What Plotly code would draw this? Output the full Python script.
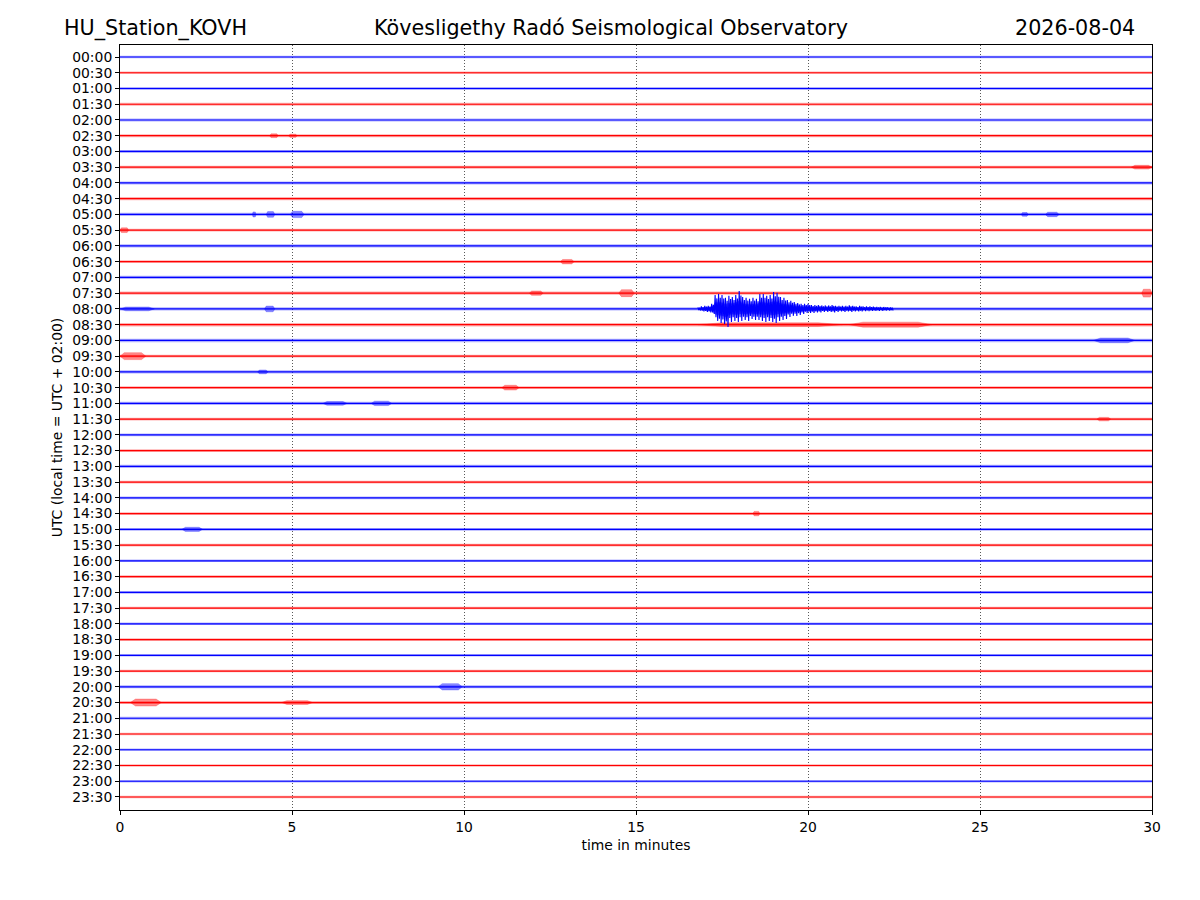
import plotly.graph_objects as go

# ---------------- data ----------------
ROW_LABELS = [f"{h:02d}:{m:02d}" for h in range(24) for m in (0, 30)]
X_TICKS = [0, 5, 10, 15, 20, 25, 30]
TRACE_COLORS = ["#0000ff", "#ff0000"]  # :00 rows blue, :30 rows red
TRACE_RGB = ["0,0,255", "255,0,0"]

# baseline noise half-width per row (in row units)
NOISE_LEVEL = [0.08, 0.08, 0.10, 0.09, 0.09, 0.09, 0.09, 0.10,
               0.10, 0.10, 0.10, 0.09, 0.10, 0.09, 0.10, 0.10,
               0.10, 0.11, 0.11, 0.09, 0.10, 0.09, 0.10, 0.09,
               0.09, 0.09, 0.10, 0.09, 0.09, 0.09, 0.09, 0.09,
               0.08, 0.09, 0.09, 0.08, 0.08, 0.09, 0.08, 0.08,
               0.09, 0.09, 0.09, 0.08, 0.08, 0.08, 0.08, 0.08]

# short local bursts: row, start minute, end minute, peak half-amplitude (rows)
BURST_ROW = ["02:30", "02:30", "03:30", "05:00", "05:00", "05:00", "05:00", "05:00",
             "05:30", "06:30", "07:30", "07:30", "07:30", "08:00", "08:00",
             "08:30", "08:30", "09:00", "09:30", "10:00", "10:30", "11:00", "11:00",
             "11:30", "14:30", "15:00", "20:00", "20:30", "20:30"]
BURST_START = [4.35, 4.9, 29.4, 3.85, 4.25, 4.95, 26.2, 26.9,
               0.0, 12.8, 11.9, 14.5, 29.7, 0.0, 4.2,
               16.8, 21.2, 28.3, 0.0, 4.0, 11.1, 5.9, 7.3,
               28.4, 18.4, 1.8, 9.25, 0.3, 4.7]
BURST_END = [4.6, 5.15, 30.0, 3.95, 4.5, 5.35, 26.4, 27.3,
             0.25, 13.2, 12.3, 14.95, 30.0, 1.0, 4.5,
             21.0, 23.6, 29.5, 0.75, 4.3, 11.6, 6.6, 7.9,
             28.8, 18.6, 2.4, 9.95, 1.2, 5.6]
BURST_AMP = [0.12, 0.10, 0.12, 0.16, 0.18, 0.20, 0.12, 0.14,
             0.15, 0.14, 0.14, 0.22, 0.25, 0.12, 0.18,
             0.12, 0.16, 0.15, 0.22, 0.12, 0.15, 0.12, 0.14,
             0.11, 0.14, 0.13, 0.20, 0.22, 0.12]

# earthquake on the 08:00 line: upward / downward excursion (rows) every 0.1 min
QUAKE_ROW = "08:00"
QUAKE_MIN = [16.8, 16.9, 17.0, 17.1, 17.2, 17.3, 17.4, 17.5, 17.6, 17.7,
             17.8, 17.9, 18.0, 18.1, 18.2, 18.3, 18.4, 18.5, 18.6, 18.7,
             18.8, 18.9, 19.0, 19.1, 19.2, 19.3, 19.4, 19.5, 19.6, 19.7,
             19.8, 19.9, 20.0, 20.1, 20.2, 20.3, 20.4, 20.5, 20.6, 20.7,
             20.8, 20.9, 21.0, 21.1, 21.2, 21.3, 21.4, 21.5, 21.6, 21.7,
             21.8, 21.9, 22.0, 22.1, 22.2, 22.3, 22.4]
QUAKE_UP = [0.10, 0.16, 0.19, 0.19, 0.32, 0.89, 0.95, 0.89, 0.70, 0.83,
            0.76, 0.89, 1.14, 0.76, 0.70, 0.64, 0.70, 0.64, 0.95, 0.95,
            0.83, 0.89, 1.08, 1.02, 0.76, 0.70, 0.57, 0.51, 0.44, 0.38,
            0.32, 0.32, 0.32, 0.25, 0.25, 0.25, 0.22, 0.22, 0.22, 0.25,
            0.19, 0.19, 0.19, 0.19, 0.22, 0.19, 0.16, 0.19, 0.16, 0.16,
            0.16, 0.14, 0.13, 0.13, 0.12, 0.11, 0.10]
QUAKE_DOWN = [0.10, 0.16, 0.19, 0.22, 0.32, 0.76, 0.89, 0.95, 1.14, 0.83,
              0.76, 0.83, 0.76, 0.70, 0.76, 0.64, 0.70, 0.70, 0.76, 0.83,
              0.76, 0.83, 0.89, 0.76, 0.70, 0.64, 0.51, 0.44, 0.44, 0.38,
              0.32, 0.25, 0.25, 0.25, 0.22, 0.22, 0.19, 0.19, 0.19, 0.22,
              0.19, 0.16, 0.19, 0.16, 0.19, 0.16, 0.16, 0.16, 0.14, 0.14,
              0.13, 0.13, 0.12, 0.12, 0.11, 0.10, 0.10]

TITLE_LEFT = "HU_Station_KOVH"
TITLE_CENTER = "Kövesligethy Radó Seismological Observatory"
TITLE_RIGHT = "2026-08-04"
X_TITLE = "time in minutes"
Y_TITLE = "UTC (local time = UTC + 02:00)"

# ---------------- figure ----------------
FONT = "DejaVu Sans"
fig = go.Figure()
row_index = {lab: i for i, lab in enumerate(ROW_LABELS)}
x0, x1 = X_TICKS[0], X_TICKS[-1]

# noise bands and centre lines, one trace per colour
for c, color in enumerate(TRACE_COLORS):
    bx, by, lx, ly = [], [], [], []
    for i, lab in enumerate(ROW_LABELS):
        if i % 2 != c:
            continue
        a = NOISE_LEVEL[i]
        bx += [x0, x1, x1, x0, x0, None]
        by += [i - a, i - a, i + a, i + a, i - a, None]
        lx += [x0, x1, None]
        ly += [i, i, None]
    fig.add_trace(go.Scatter(x=bx, y=by, mode="lines", fill="toself",
                             fillcolor=f"rgba({TRACE_RGB[c]},0.30)", line=dict(width=0),
                             hoverinfo="skip", showlegend=False))
    fig.add_trace(go.Scatter(x=lx, y=ly, mode="lines",
                             line=dict(color=color, width=1.2),
                             hoverinfo="skip", showlegend=False))

# bursts as small fuzzy envelopes
for c, color in enumerate(TRACE_COLORS):
    px_, py_ = [], []
    for r, s, e, a in zip(BURST_ROW, BURST_START, BURST_END, BURST_AMP):
        i = row_index[r]
        if i % 2 != c:
            continue
        q = (e - s) / 6
        px_ += [s, s + q, e - q, e, e - q, s + q, s, None]
        py_ += [i, i - a, i - a, i, i + a, i + a, i, None]
    fig.add_trace(go.Scatter(x=px_, y=py_, mode="lines", fill="toself",
                             fillcolor=f"rgba({TRACE_RGB[c]},0.45)",
                             line=dict(color=f"rgba({TRACE_RGB[c]},0.5)", width=0.5),
                             hoverinfo="skip", showlegend=False))

# earthquake: soft inner envelope plus a dense zig-zag between the read excursions
qi = row_index[QUAKE_ROW]
qc = qi % 2
ex = list(QUAKE_MIN) + list(reversed(QUAKE_MIN))
ey = [qi - 0.45 * u for u in QUAKE_UP] + [qi + 0.45 * d for d in reversed(QUAKE_DOWN)]
fig.add_trace(go.Scatter(x=ex, y=ey, mode="lines", fill="toself",
                         fillcolor=f"rgba({TRACE_RGB[qc]},0.55)", line=dict(width=0),
                         hoverinfo="skip", showlegend=False))
zx, zy = [], []
for t, u, d in zip(QUAKE_MIN, QUAKE_UP, QUAKE_DOWN):
    zx += [t, t + 0.025, t + 0.05, t + 0.075]
    zy += [qi - u, qi + d * 0.7, qi - u * 0.75, qi + d]
fig.add_trace(go.Scatter(x=zx, y=zy, mode="lines",
                         line=dict(color=TRACE_COLORS[qc], width=1.1),
                         hoverinfo="skip", showlegend=False))

n = len(ROW_LABELS)
# the page body adds an 8px offset, so margins are shifted by that amount
fig.update_layout(
    width=1200, height=900,
    margin=dict(l=112, r=56, t=37, b=98, autoexpand=False),
    paper_bgcolor="white", plot_bgcolor="white",
    font=dict(family=FONT, size=13.9, color="black"),
    showlegend=False,
    xaxis=dict(range=[x0, x1], tickvals=X_TICKS, ticktext=[str(v) for v in X_TICKS],
               showgrid=True, gridcolor="rgba(0,0,0,0.65)", griddash="1px,2px", gridwidth=0.8,
               zeroline=False, showline=True, linecolor="black", linewidth=1, mirror=True,
               ticks="outside", ticklen=4, tickcolor="black",
               title=dict(text=X_TITLE, standoff=6, font=dict(size=13.9)),
               automargin=False),
    yaxis=dict(range=[n - 1 + 0.826, -0.762], tickvals=list(range(n)), ticktext=ROW_LABELS,
               showgrid=False, zeroline=False, showline=True, linecolor="black", linewidth=1,
               mirror=True, ticks="outside", ticklen=4, tickcolor="black",
               title=dict(text=Y_TITLE, standoff=6, font=dict(size=13.9)),
               automargin=False),
    annotations=[
        dict(text=TITLE_LEFT, xref="paper", yref="paper", x=(62 - 120) / 1032, y=1 + 17 / 765,
             xanchor="left", yanchor="middle", showarrow=False, font=dict(size=20.7)),
        dict(text=TITLE_CENTER, xref="paper", yref="paper", x=(611 - 120) / 1032, y=1 + 17 / 765,
             xanchor="center", yanchor="middle", showarrow=False, font=dict(size=20.7)),
        dict(text=TITLE_RIGHT, xref="paper", yref="paper", x=(1137 - 120) / 1032, y=1 + 17 / 765,
             xanchor="right", yanchor="middle", showarrow=False, font=dict(size=20.7)),
    ],
)

fig.write_html("out.html")
